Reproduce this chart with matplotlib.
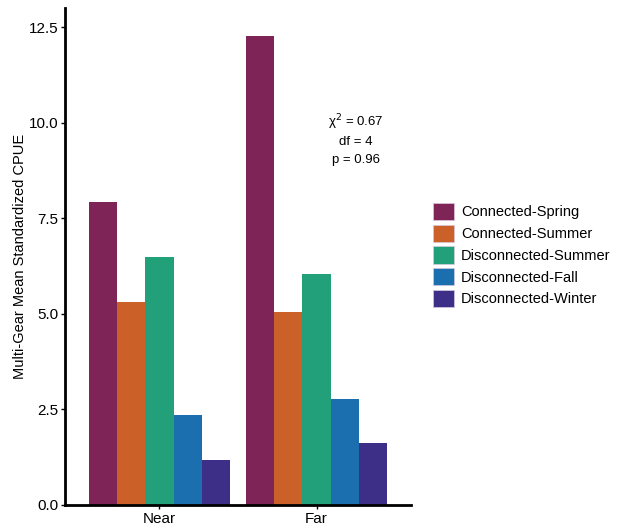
import matplotlib
matplotlib.use("Agg")
import matplotlib.pyplot as plt
from matplotlib.patches import Patch
import numpy as np

plt.rcParams['font.family'] = ['Liberation Sans', 'DejaVu Sans']

sites = ["Near", "Far"]
groups = ["Connected-Spring", "Connected-Summer", "Disconnected-Summer",
          "Disconnected-Fall", "Disconnected-Winter"]
near_vals = [7.92, 5.31, 6.48, 2.35, 1.19]
far_vals = [12.27, 5.05, 6.04, 2.77, 1.62]
colors = ["#7E2457", "#CB6128", "#22A07A", "#1B6FAE", "#3D2E88"]

fig = plt.figure(figsize=(6.18, 5.31), dpi=100)
ax = fig.add_axes([65 / 618, 26 / 531, 346 / 618, 497 / 531])

x = np.arange(1, len(sites) + 1)
width = 0.9 / len(groups)
for i, g in enumerate(groups):
    vals = [near_vals[i], far_vals[i]]
    ax.bar(x - 0.45 + width * (i + 0.5), vals, width, color=colors[i], label=g)

ax.set_xlim(0.4, 2.6)
ax.set_ylim(0, 13.0)
ax.set_xticks(x)
ax.set_xticklabels(sites)
ax.set_yticks([0, 2.5, 5, 7.5, 10, 12.5])
ax.set_yticklabels(["0.0", "2.5", "5.0", "7.5", "10.0", "12.5"])
ax.tick_params(labelsize=11, colors="black", length=3, width=1, pad=2)
ax.set_ylabel("Multi-Gear Mean Standardized CPUE", fontsize=10.5, labelpad=1)

for s in ["top", "right"]:
    ax.spines[s].set_visible(False)
for s in ["left", "bottom"]:
    ax.spines[s].set_linewidth(2)

ax.text(2.25, 10.0, "χ$^2$ = 0.67", ha="center", va="center", fontsize=9.5)
ax.text(2.25, 9.5, "df = 4", ha="center", va="center", fontsize=9.5)
ax.text(2.25, 9.02, "p = 0.96", ha="center", va="center", fontsize=9.5)

handles = [Patch(facecolor=c, edgecolor="#d8c8e0", linewidth=0.5) for c in colors]
fig.legend(handles, groups, loc="center left", bbox_to_anchor=(420 / 618, 1 - 255 / 531),
           frameon=False, fontsize=10.5, handlelength=1.4, handleheight=1.45,
           handletextpad=0.5, labelspacing=0.3)

fig.savefig("out.png", dpi=100)
